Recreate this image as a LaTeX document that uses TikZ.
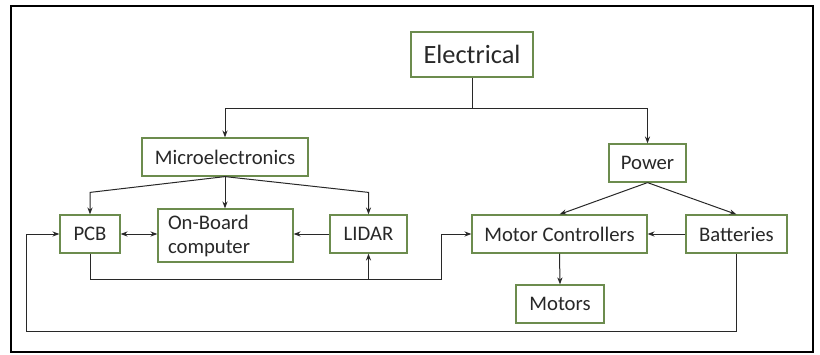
\documentclass[tikz,border=0pt]{standalone}
\usepackage{fontspec}
\setmainfont{Carlito}
\usepackage{xcolor}
\usetikzlibrary{positioning, arrows.meta}

\definecolor{boxgreen}{RGB}{108,140,78}
\definecolor{inkgray}{RGB}{40,40,40}

\begin{document}
\begin{tikzpicture}[x=0.5pt, y=-0.5pt,
    box/.style={draw=boxgreen, line width=0.6pt, fill=white, inner sep=0pt,
      minimum height=19pt, text=inkgray, font=\fontsize{10.35}{12}\selectfont},
    arr/.style={draw=inkgray, line width=0.5pt, -{Stealth[length=3.5pt, width=2.6pt]}},
    darr/.style={arr, {Stealth[length=3.5pt, width=2.6pt]}-{Stealth[length=3.5pt, width=2.6pt]}},
    line/.style={draw=inkgray, line width=0.5pt}]
        \useasboundingbox (0,0) rectangle (820,354);
        \draw[line width=1pt] (11,6) rectangle (813,352);

        % top level
        \node[box, minimum width=61pt, minimum height=22.5pt,
          font=\fontsize{13.2}{15}\selectfont] (elec) at (472,54.5) {Electrical};
        \coordinate (split) at (472,108);

        % left branch
        \node[box, minimum width=83pt] (micro) at (225,157) {Microelectronics};
        \node[box, minimum width=30pt] (pcb) at (90,234) {PCB};
        \node[box, text width=57.5pt, inner xsep=5pt, minimum height=26.5pt,
          align=left] (obc) at (225.5,235.5) {On-Board\\computer};
        \node[box, minimum width=38.5pt] (lidar) at (368.5,234) {LIDAR};

        % right branch
        \node[box, minimum width=38.5pt] (power) at (647.5,163) {Power};
        \node[box, minimum width=87.5pt] (motctl) at (559.5,234) {Motor Controllers};
        \node[box, minimum width=50.5pt] (batt) at (736.5,234) {Batteries};
        \node[box, minimum width=44pt] (motors) at (560,304) {Motors};

        % turning points of the long wires
        \coordinate (turn) at (441,279);
        \coordinate (lidbus) at (368.5,279);
        \coordinate (low) at (26,331);

        \draw[line] (elec.south) -- (split);
        \draw[arr] (split) -| (micro.north);
        \draw[arr] (split) -| (power.north);

        \draw[arr] (micro.south) -- ([yshift=11pt]pcb.north) -- (pcb.north);
        \draw[arr] (micro.south) -- (micro.south |- obc.north);
        \draw[arr] (micro.south) -- ([yshift=11pt]lidar.north) -- (lidar.north);

        \draw[darr] (pcb.east) -- (pcb.east -| obc.west);
        \draw[arr] (lidar.west) -- (lidar.west -| obc.east);

        \draw[arr] (pcb.south) |- (turn) |- (motctl.west);
        \draw[arr] (lidbus) -- (lidar.south);

        \draw[arr] (power.south) -- (motctl.north);
        \draw[arr] (power.south) -- (batt.north);
        \draw[arr] (batt.west) -- (motctl.east);
        \draw[arr] (motctl.south) -- (motors.north);

        \draw[arr] (batt.south) |- (low) |- (pcb.west);
\end{tikzpicture}
\end{document}
